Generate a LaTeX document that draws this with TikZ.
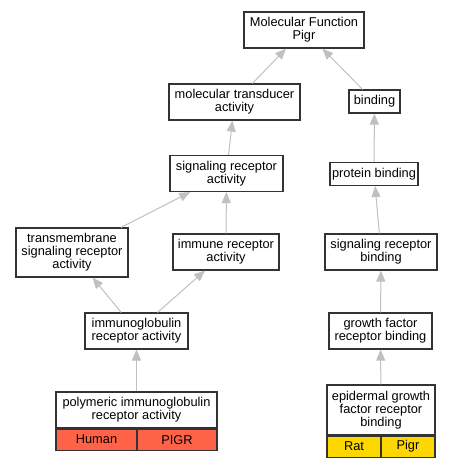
\documentclass[tikz,border=0pt]{standalone}
\usepackage{fontspec}
\setmainfont{Liberation Sans}
\usepackage{tikz}
\usetikzlibrary{shapes,arrows.meta}
\definecolor{edgegray}{RGB}{192,192,192}
\definecolor{human}{RGB}{255,99,71}
\definecolor{rat}{RGB}{255,215,0}
\tikzstyle{term} = [draw=black!80, line width=1.1pt, fill=white, rectangle, align=center, inner sep=0pt, minimum height=36pt]
\tikzstyle{cell} = [draw=black!80, line width=1.1pt, rectangle, inner sep=0pt, minimum height=21pt]
\tikzstyle{isa} = [draw=edgegray, line width=1pt, -{Triangle[length=11pt,width=9pt]}]

\begin{document}
\begin{tikzpicture}[x=1pt,y=-1pt,font=\fontsize{12.8}{13}\selectfont]

    \useasboundingbox (0,0) rectangle (453,467);

    % terms, top to bottom
    \node [term, minimum width=120pt, name = mf] at (304,30) {Molecular Function\\Pigr};
    \node [term, minimum width=131pt, name = mta] at (234.5,102) {molecular transducer\\activity};
    \node [term, minimum width=51pt, minimum height=23pt, name = bind] at (374.5,101.5) {binding};
    \node [term, minimum width=113pt, name = sra] at (226.5,173.5) {signaling receptor\\activity};
    \node [term, minimum width=88pt, minimum height=23pt, name = pb] at (374,174) {protein binding};
    \node [term, minimum width=112pt, minimum height=49pt, name = tmsra] at (72,252.5) {transmembrane\\signaling receptor\\activity};
    \node [term, minimum width=106pt, name = ira] at (226,252) {immune receptor\\activity};
    \node [term, minimum width=112pt, name = srb] at (381,252) {signaling receptor\\binding};
    \node [term, minimum width=103pt, name = igra] at (136.5,331) {immunoglobulin\\receptor activity};
    \node [term, minimum width=103pt, name = gfrb] at (380.5,331) {growth factor\\receptor binding};

    % annotated terms with gene rows
    \node [term, minimum width=161pt, name = pigr] at (136.5,410) {polymeric immunoglobulin\\receptor activity};
    \node [cell, fill=human, minimum width=81pt, anchor=north west, name = pigrsp] at (pigr.south west) {Human};
    \node [cell, fill=human, minimum width=80pt, anchor=north east, name = pigrgene] at (pigr.south east) {PIGR};

    \node [term, minimum width=108pt, minimum height=50pt, name = egfr] at (381,410) {epidermal growth\\factor receptor\\binding};
    \node [cell, fill=rat, minimum width=54pt, anchor=north west, name = egfrsp] at (egfr.south west) {Rat};
    \node [cell, fill=rat, minimum width=54pt, anchor=north east, name = egfrgene] at (egfr.south east) {Pigr};

    \draw [isa] (mta) -- (mf);
    \draw [isa] (bind) -- (mf);
    \draw [isa] (sra) -- (mta);
    \draw [isa] (pb) -- (bind);
    \draw [isa] (tmsra) -- (sra);
    \draw [isa] (ira) -- (sra);
    \draw [isa] (srb) -- (pb);
    \draw [isa] (igra) -- (tmsra);
    \draw [isa] (igra) -- (ira);
    \draw [isa] (gfrb) -- (srb);
    \draw [isa] (pigr) -- (igra);
    \draw [isa] (egfr) -- (gfrb);

\end{tikzpicture}
\end{document}
